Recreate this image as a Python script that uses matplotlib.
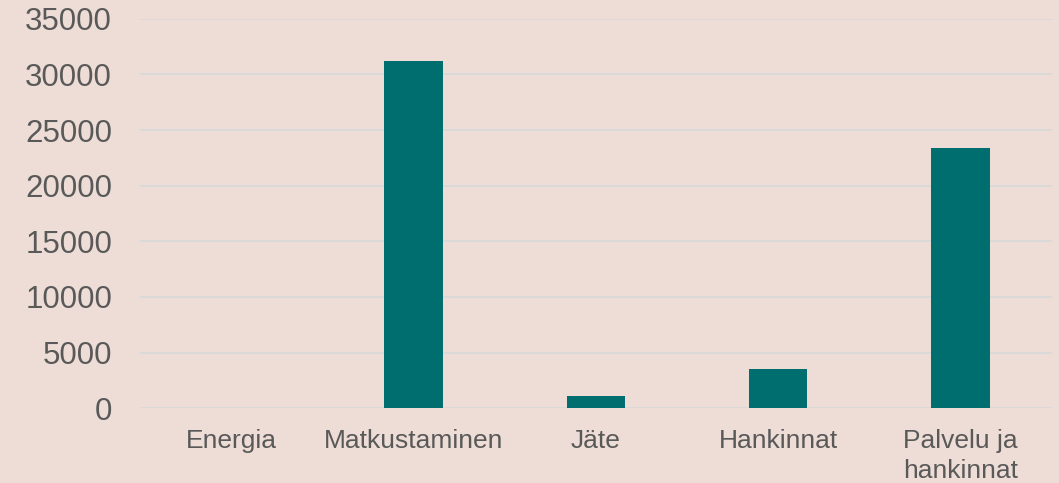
import matplotlib.pyplot as plt
import numpy as np

categories = ['Energia', 'Matkustaminen', 'Jäte', 'Hankinnat', 'Palvelu ja\nhankinnat']
values = [0, 31200, 1100, 3500, 23400]
yticks = [0, 5000, 10000, 15000, 20000, 25000, 30000, 35000]

bg = '#EEDDD6'
bar_color = '#006E6E'
text_color = '#595959'

plt.rcParams['font.family'] = ['Liberation Sans', 'DejaVu Sans']

fig = plt.figure(figsize=(10.59, 4.83), dpi=100, facecolor=bg)
ax = fig.add_axes([0.132, 0.155, 0.861, 0.806])
ax.set_facecolor(bg)

x = np.arange(len(categories))
ax.bar(x, values, width=0.32, color=bar_color, zorder=2)

ax.set_xlim(-0.5, len(categories) - 0.5)
ax.set_ylim(0, 35000)
ax.set_yticks(yticks)
ax.set_yticklabels([str(v) for v in yticks])
ax.set_xticks(x)
ax.set_xticklabels(categories, linespacing=1.3)

ax.grid(axis='y', color='#D9D9D9', linewidth=1.3, zorder=0)
ax.set_axisbelow(True)
for s in ax.spines.values():
    s.set_visible(False)

ax.tick_params(axis='y', length=0, pad=20, labelsize=22.5, labelcolor=text_color)
ax.tick_params(axis='x', length=0, pad=15, labelsize=19, labelcolor=text_color)

fig.savefig('out.png', dpi=100, facecolor=bg)
